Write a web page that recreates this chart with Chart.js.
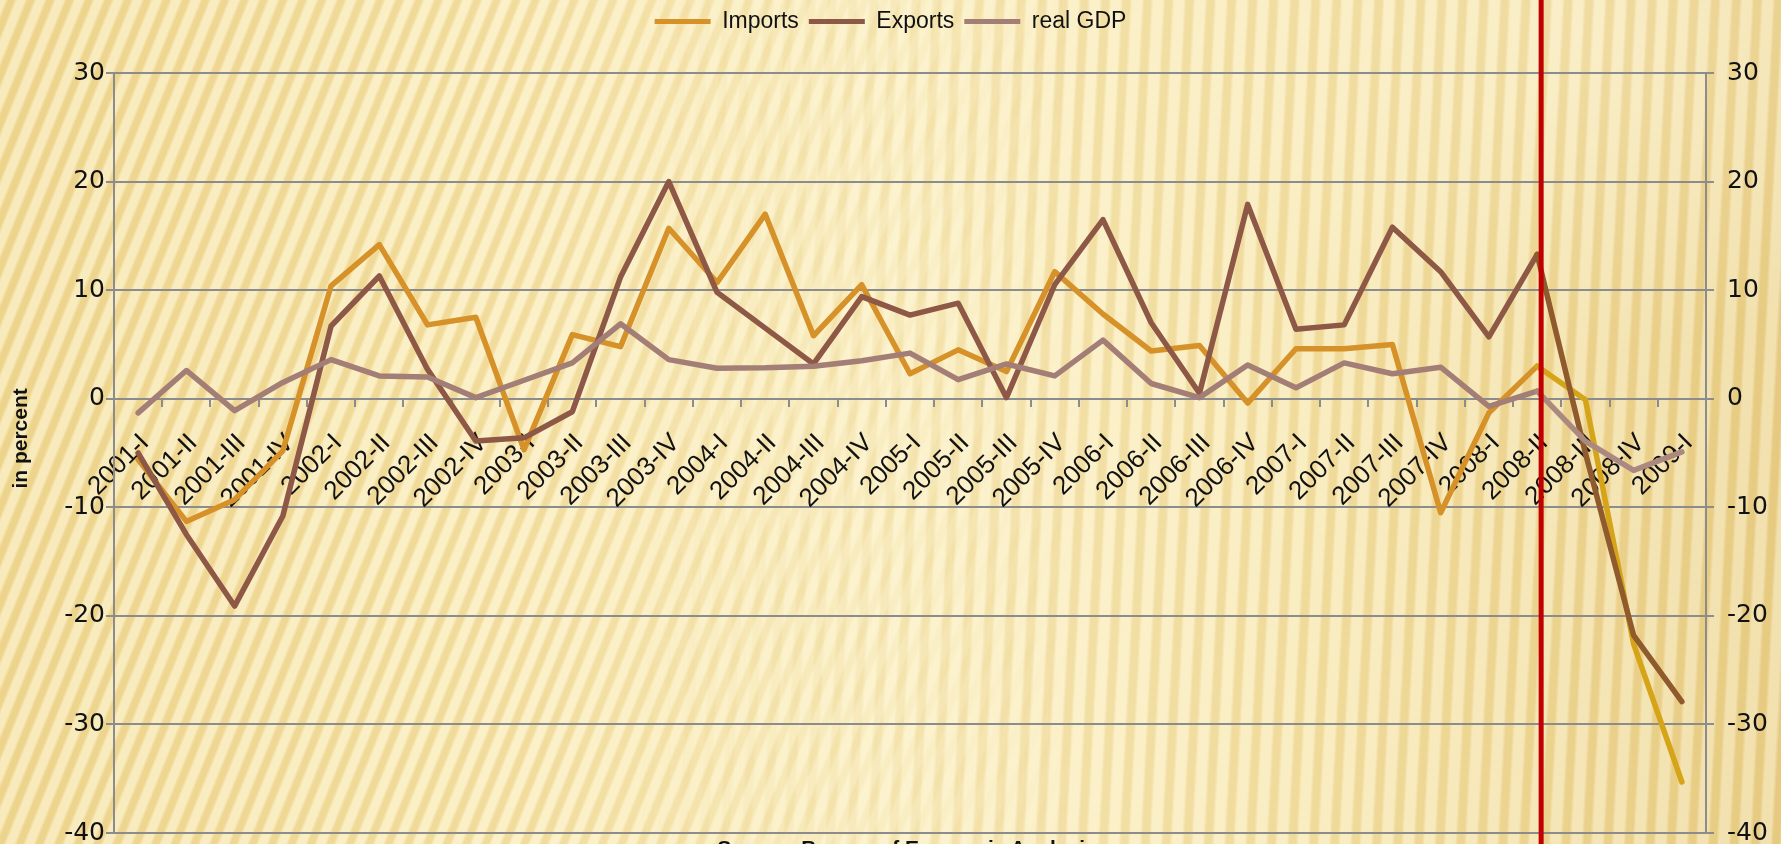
<!DOCTYPE html>
<html>
<head>
<meta charset="utf-8">
<script src="https://cdn.jsdelivr.net/npm/chart.js@4.4.1/dist/chart.umd.min.js"></script>
<style>
  html, body { margin:0; padding:0; }
  body {
    width:1781px; height:844px; overflow:hidden; position:relative;
    background:
      radial-gradient(ellipse 440px 320px at 1580px 30px, rgba(255,247,216,0.45), rgba(255,247,216,0) 100%),
      linear-gradient(90deg, #f2dc9a 0%, #f7e6ae 25%, #fbefc3 50%, #f5e3aa 75%, #e9cf8a 100%);
  }
  .stripes { position:absolute; left:0; top:0; width:1781px; height:844px; }
  #diag {
    background: repeating-linear-gradient(112deg, rgba(255,251,228,0.45) 0 5px, rgba(222,186,96,0.25) 8px 13px, rgba(255,251,228,0.45) 16px 18px);
    -webkit-mask-image: linear-gradient(90deg, #000 0%, #000 30%, transparent 62%);
            mask-image: linear-gradient(90deg, #000 0%, #000 30%, transparent 62%);
  }
  #vert {
    background: repeating-linear-gradient(93deg, rgba(255,251,228,0.4) 0 6px, rgba(222,186,96,0.22) 9px 15px, rgba(255,251,228,0.4) 18px 21px);
    -webkit-mask-image: linear-gradient(90deg, transparent 35%, #000 60%, #000 100%);
            mask-image: linear-gradient(90deg, transparent 35%, #000 60%, #000 100%);
  }
  #wrap { position:absolute; left:0; top:0; width:1781px; height:844px; }
  #source {
    position:absolute; top:836px; left:706px; width:402px; text-align:center;
    font: bold 21px "Liberation Sans", Arial, sans-serif; color:#111; white-space:nowrap;
  }
</style>
</head>
<body>
<div class="stripes" id="diag"></div>
<div class="stripes" id="vert"></div>
<div id="wrap"><canvas id="chart"></canvas></div>
<div id="source">Source: Bureau of Economic Analysis</div>
<script>
// quarterly growth, annualised, in percent
const quarters = [
  '2001-I','2001-II','2001-III','2001-IV',
  '2002-I','2002-II','2002-III','2002-IV',
  '2003-I','2003-II','2003-III','2003-IV',
  '2004-I','2004-II','2004-III','2004-IV',
  '2005-I','2005-II','2005-III','2005-IV',
  '2006-I','2006-II','2006-III','2006-IV',
  '2007-I','2007-II','2007-III','2007-IV',
  '2008-I','2008-II','2008-III','2008-IV',
  '2009-I'
];
const imports = [
  -5.6, -11.3, -9.3, -4.8,
  10.4, 14.2, 6.8, 7.5,
  -4.7, 5.9, 4.8, 15.7,
  10.7, 17.0, 5.8, 10.5,
  2.3, 4.5, 2.5, 11.7,
  7.8, 4.4, 4.9, -0.4,
  4.6, 4.6, 5.0, -10.5,
  -1.3, 3.0, -0.1, -22.6,
  -35.3
];
const exports = [
  -5.0, -12.5, -19.1, -10.8,
  6.7, 11.3, 2.7, -3.9,
  -3.6, -1.2, 11.2, 20.0,
  9.8, 6.5, 3.2, 9.4,
  7.7, 8.8, 0.1, 10.5,
  16.5, 7.0, 0.5, 17.9,
  6.4, 6.8, 15.8, 11.7,
  5.7, 13.3, -5.0, -21.8,
  -27.9
];
const realGdp = [
  -1.3, 2.6, -1.1, 1.5,
  3.6, 2.1, 2.0, 0.1,
  1.7, 3.3, 6.9, 3.6,
  2.8, 2.85, 3.0, 3.5,
  4.2, 1.75, 3.2, 2.1,
  5.4, 1.4, 0.1, 3.1,
  1.0, 3.3, 2.3, 2.9,
  -0.7, 0.7, -3.9, -6.6,
  -4.9
];
const yMin = -40, yMax = 30, yStep = 10;
const crisisIndex = 29;   // 2008-II, the red marker

const GRID = '#8c8c8c';
const tickFont = { family: '"DejaVu Sans", sans-serif', size: 25, lineHeight: 1 };

// colour after the crisis marker
const after = (base, late) => ctx => ctx.p0DataIndex >= crisisIndex ? late : base;

function series(label, data, color, late, order){
  return {
    label, data, order,
    borderColor: color, backgroundColor: color,
    borderWidth: 5.5, pointRadius: 0, pointHoverRadius: 0,
    tension: 0, borderJoinStyle: 'round', borderCapStyle: 'round',
    segment: { borderColor: after(color, late) }
  };
}

const crisisLine = {
  id: 'crisisLine',
  afterDatasetsDraw(chart){
    const x = chart.scales.x.getPixelForValue(crisisIndex) + 4;
    const c = chart.ctx;
    c.save();
    c.strokeStyle = '#c00000';
    c.lineWidth = 5;
    c.beginPath();
    c.moveTo(x, 0);
    c.lineTo(x, chart.height);
    c.stroke();
    c.restore();
  }
};

const yAxis = (side, width, onArea) => ({
  position: side,
  min: yMin, max: yMax,
  ticks: { stepSize: yStep, color: '#111', font: tickFont, padding: side==='left' ? 1 : 13 },
  grid: { color: GRID, lineWidth: 2, tickLength: 8, drawOnChartArea: onArea },
  border: { display: true, color: GRID, width: 2 },
  afterFit(s){
    s.width = width;
    // keep the plot tall, labels may overhang a little
    s.paddingTop = 11;
    s.paddingBottom = 11;
  }
});

new Chart(document.getElementById('chart').getContext('2d'), {
  type: 'line',
  data: {
    labels: quarters,
    datasets: [
      series('Imports', imports, '#d69128', '#d6a418', 3),
      series('Exports', exports, '#8e5846', '#8f5a2c', 2),
      series('real GDP', realGdp, '#a27e76', '#aa8a80', 1)
    ]
  },
  options: {
    responsive: true,
    maintainAspectRatio: false,
    animation: false,
    layout: { padding: 0 },
    plugins: {
      legend: {
        position: 'top',
        labels: {
          boxWidth: 56, boxHeight: 5, padding: 10, color: '#111',
          font: { family: '"Liberation Sans", Arial, sans-serif', size: 23 },
          sort: (a, b) => a.datasetIndex - b.datasetIndex,
          generateLabels: chart => Chart.defaults.plugins.legend.labels.generateLabels(chart)
            .map(l => ({ ...l, lineWidth: 0 }))
        }
      },
      // spacer between legend and plot
      title: { display: true, text: '', weight: 500, font: { size: 10, lineHeight: 1 }, padding: { top: 20, bottom: 0 } },
      tooltip: { enabled: false }
    },
    scales: {
      x: {
        type: 'category',
        position: { y: 0 },
        offset: true,
        grid: { offset: true, drawOnChartArea: false, color: GRID, lineWidth: 2, tickLength: 7 },
        border: { display: true, color: GRID, width: 2 },
        ticks: {
          autoSkip: false, minRotation: 45, maxRotation: 45, padding: 22, labelOffset: 7, color: '#111',
          font: { family: '"Liberation Sans", Arial, sans-serif', size: 26 }
        }
      },
      y: {
        ...yAxis('left', 114, true),
        title: {
          display: true, text: '     in percent', color: '#111',
          font: { family: '"Liberation Sans", Arial, sans-serif', size: 21, weight: 'bold' },
          padding: { top: 9, bottom: 0 }
        }
      },
      y2: yAxis('right', 75, false)
    }
  },
  plugins: [crisisLine]
});
</script>
</body>
</html>
